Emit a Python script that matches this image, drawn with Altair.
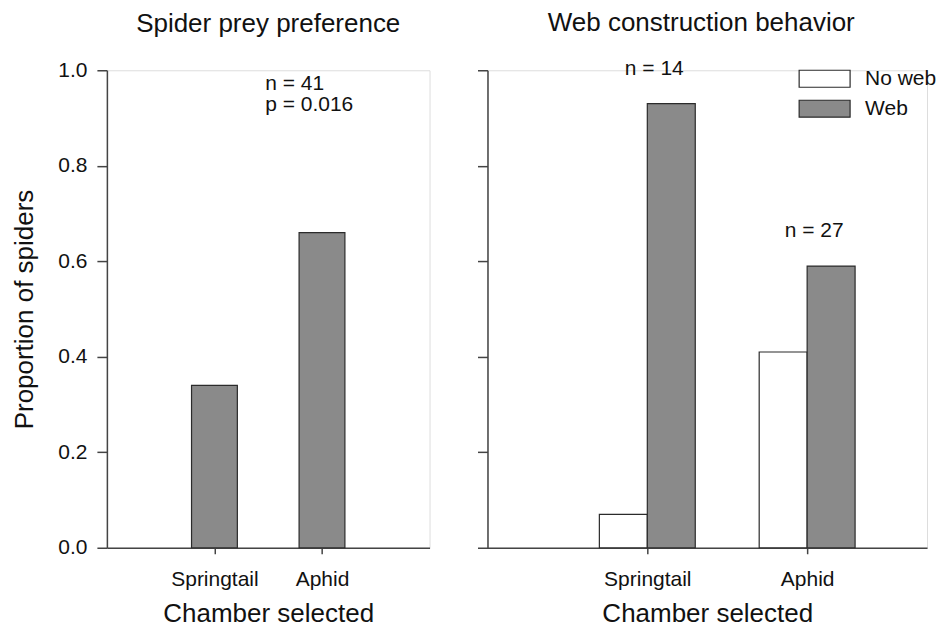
import json
import altair as alt
import pandas as pd

# ---------------- data ----------------
chambers = ["Springtail", "Aphid"]
pref_props = [0.34, 0.66]                 # proportion of spiders choosing each chamber
web_status = ["No web", "Web"]
web_springtail = [0.07, 0.93]             # No web, Web
web_aphid = [0.41, 0.59]                  # No web, Web
web_n_labels = ["n = 14", "n = 27"]
pref_note = ["n = 41", "p = 0.016"]
y_ticks = [0.0, 0.2, 0.4, 0.6, 0.8, 1.0]

# ---------------- style ----------------
FONT = "Liberation Sans"
GRAY = "#8a8a8a"
EDGE = "#2b2b2b"
AXIS = "#444444"
TXT = "#111111"
H = 478
W_LEFT = 323
W_RIGHT = 440

positions = list(range(1, len(chambers) + 1))
label_expr = f"{json.dumps(chambers)}[datum.value - 1]"

pref_df = pd.DataFrame({"chamber": chambers, "prop": pref_props, "idx": positions})

rows = []
for c, i, vals in zip(chambers, positions, [web_springtail, web_aphid]):
    for s, v in zip(web_status, vals):
        rows.append({"chamber": c, "idx": i, "status": s, "prop": v})
web_df = pd.DataFrame(rows)

n_df = pd.DataFrame({
    "chamber": chambers,
    "idx": positions,
    "top": [max(web_springtail), max(web_aphid)],
    "label": web_n_labels,
})
note_df = pd.DataFrame({"idx": positions})

yscale = alt.Scale(domain=[0, 1], nice=False, zero=True)


def x_axis():
    return alt.Axis(
        values=positions, labelExpr=label_expr, grid=False,
        ticks=True, tickSize=6, tickColor=AXIS, tickWidth=1.5,
        domainColor=AXIS, domainWidth=1.5,
        labelFont=FONT, labelFontSize=21, labelColor=TXT, labelPadding=15,
        title="Chamber selected", titleFont=FONT, titleFontSize=26,
        titleFontWeight="normal", titleColor=TXT, titlePadding=11,
    )


y_axis_left = alt.Axis(
    values=y_ticks, format=".1f", grid=False,
    tickSize=10, tickColor=AXIS, tickWidth=1.5,
    domainColor=AXIS, domainWidth=1.5,
    labelFont=FONT, labelFontSize=21, labelColor=TXT, labelPadding=10,
    title="Proportion of spiders", titleFont=FONT, titleFontSize=26,
    titleFontWeight="normal", titleColor=TXT, titlePadding=20,
)
y_axis_right = alt.Axis(
    values=y_ticks, grid=False, labels=False, title=None,
    tickSize=10, tickColor=AXIS, tickWidth=1.5,
    domainColor=AXIS, domainWidth=1.5,
)

# ---------------- left panel ----------------
left_half = 0.213
left_bars = alt.Chart(pref_df).transform_calculate(
    xa=f"datum.idx - {left_half}", xb=f"datum.idx + {left_half}"
).mark_bar(fill=GRAY, stroke=EDGE, strokeWidth=1.2).encode(
    x=alt.X("xa:Q", scale=alt.Scale(domain=[0, 3], nice=False, zero=False), axis=x_axis()),
    x2="xb:Q",
    y=alt.Y("prop:Q", scale=yscale, axis=y_axis_left),
    y2=alt.datum(0),
)

left_note = alt.Chart(note_df).transform_aggregate(
    mid="mean(idx)"
).transform_calculate(
    label=json.dumps("\n".join(pref_note)), yv="1"
).mark_text(
    align="left", baseline="top", font=FONT, fontSize=21, color=TXT,
    lineBreak="\n", lineHeight=21, dx=-3, dy=3,
).encode(x="mid:Q", y="yv:Q", text="label:N")

left = alt.layer(left_bars, left_note).properties(
    width=W_LEFT, height=H,
    title=alt.TitleParams("Spider prey preference", font=FONT, fontSize=26,
                          fontWeight="normal", color=TXT, anchor="middle", offset=22),
)

# ---------------- right panel ----------------
bar_w = 0.3
right_bars = alt.Chart(web_df).transform_calculate(
    xa=f"datum.status == '{web_status[1]}' ? datum.idx : datum.idx - {bar_w}",
).transform_calculate(
    xb=f"datum.xa + {bar_w}"
).mark_bar(stroke=EDGE, strokeWidth=1.2, opacity=1).encode(
    x=alt.X("xa:Q", scale=alt.Scale(domain=[0, 2.75], nice=False, zero=False), axis=x_axis()),
    x2="xb:Q",
    y=alt.Y("prop:Q", scale=yscale, axis=y_axis_right),
    y2=alt.datum(0),
    fill=alt.Fill(
        "status:N",
        scale=alt.Scale(domain=web_status, range=["#ffffff", GRAY]),
        legend=alt.Legend(
            title=None, orient="none", legendX=327, legendY=-2,
            symbolType="M-3,-1H3V1H-3Z", symbolSize=289,
            symbolStrokeColor=EDGE, symbolStrokeWidth=1.2, symbolOpacity=1,
            labelFont=FONT, labelFontSize=21, labelColor=TXT, labelOffset=30,
            rowPadding=7,
        ),
    ),
)

right_n = alt.Chart(n_df).mark_text(
    align="center", baseline="alphabetic", font=FONT, fontSize=21, color=TXT, dy=-29, dx=7,
).encode(x="idx:Q", y="top:Q", text="label:N")

right = alt.layer(right_bars, right_n).properties(
    width=W_RIGHT, height=H,
    title=alt.TitleParams("Web construction behavior", font=FONT, fontSize=26,
                          fontWeight="normal", color=TXT, anchor="middle", offset=22, dx=-6),
)

chart = alt.hconcat(left, right, spacing=45).resolve_scale(
    x="independent", y="independent", fill="independent"
).properties(
    padding={"left": 3, "top": 0, "right": 0, "bottom": 0}
).configure_view(stroke=None).configure(background="white")

chart.save("out.html", embed_options={"renderer": "svg", "actions": False})
